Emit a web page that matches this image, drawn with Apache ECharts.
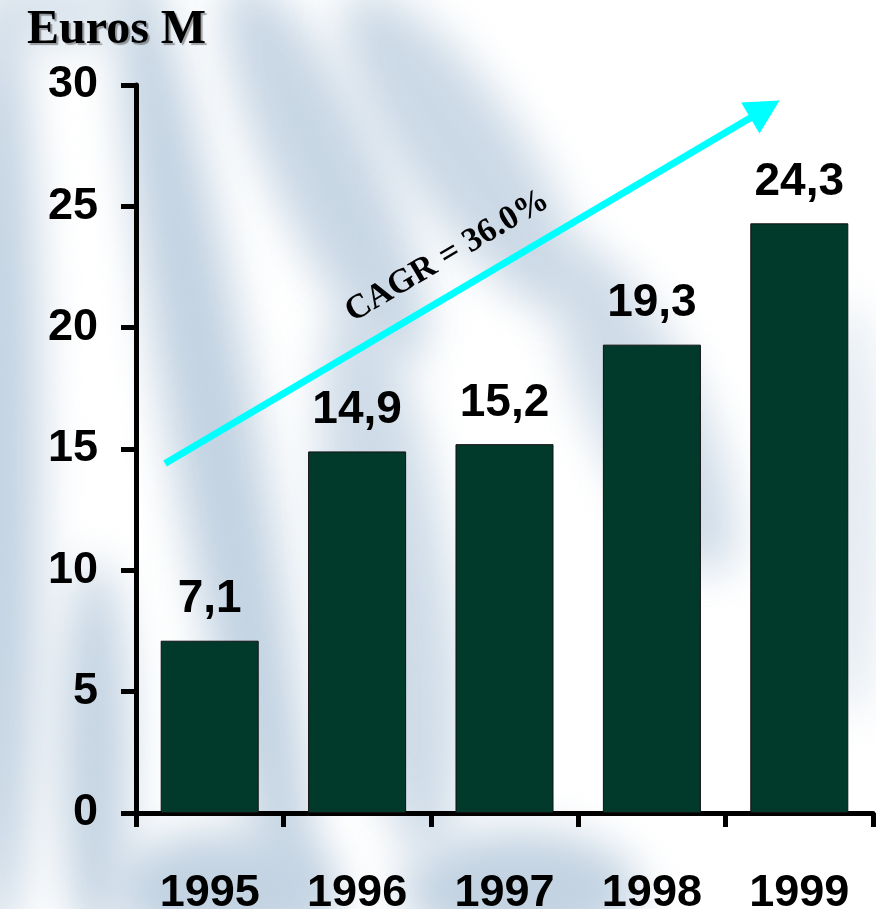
<!DOCTYPE html>
<html>
<head>
<meta charset="utf-8">
<script src="https://cdn.jsdelivr.net/npm/echarts@6/dist/echarts.min.js"></script>
<style>
html,body{margin:0;padding:0;background:#fff;overflow:hidden;}
#bg{position:absolute;left:0;top:0;width:876px;height:909px;overflow:hidden;}
#bg div{position:absolute;background:#c3d3e2;filter:blur(22px);border-radius:50%;}
#chart{position:absolute;left:0;top:0;width:876px;height:909px;}
</style>
</head>
<body>
<div id="bg">
  <div style="left:-40px;top:-20px;width:80px;height:960px;"></div>
  <div style="left:60px;top:560px;width:70px;height:380px;"></div>
  <div style="left:170px;top:-60px;width:90px;height:1000px;transform:rotate(-10deg);"></div>
  <div style="left:270px;top:-40px;width:110px;height:420px;transform:rotate(-25deg);opacity:0.9;"></div>
  <div style="left:400px;top:-40px;width:120px;height:380px;transform:rotate(-35deg);opacity:0.85;"></div>
  <div style="left:330px;top:300px;width:120px;height:560px;transform:rotate(-8deg);opacity:0.8;"></div>
  <div style="left:590px;top:230px;width:110px;height:360px;transform:rotate(-25deg);opacity:0.8;"></div>
  <div style="left:400px;top:830px;width:240px;height:120px;"></div>
  <div style="left:110px;top:830px;width:230px;height:120px;"></div>
  <div style="left:820px;top:300px;width:60px;height:420px;opacity:0.5;"></div>
  <div style="left:0px;top:-30px;width:120px;height:80px;opacity:0.6;"></div>
</div>
<div id="chart"></div>
<script>
const categories = ['1995', '1996', '1997', '1998', '1999'];
const revenue = [7.1, 14.9, 15.2, 19.3, 24.3];
const yTicks = [0, 5, 10, 15, 20, 25, 30];
const trendStart = [0.197, 14.4];
const trendEnd = [4.267, 29.0];
const trendLabel = 'CAGR = 36.0%';
const unitLabel = 'Euros M';

const chart = echarts.init(document.getElementById('chart'), null, {renderer: 'canvas'});
const sans = '"Liberation Sans", Arial, sans-serif';
const serif = '"Liberation Serif", "Times New Roman", serif';

chart.setOption({
  backgroundColor: 'transparent',
  animation: false,
  title: {
    text: unitLabel,
    left: 22,
    top: 2,
    textStyle: {
      fontFamily: serif,
      fontWeight: 'bold',
      fontSize: 48,
      color: '#000',
      textShadowColor: 'rgba(0,0,0,0.35)',
      textShadowOffsetX: 2,
      textShadowOffsetY: 2,
      textShadowBlur: 1
    }
  },
  grid: {left: 136, right: 3, top: 85, bottom: 96, containLabel: false, outerBoundsMode: 'none'},
  xAxis: [{
    type: 'category',
    data: categories,
    boundaryGap: true,
    axisLine: {lineStyle: {color: '#000', width: 5}},
    axisTick: {show: true, length: 14, lineStyle: {color: '#000', width: 5}},
    axisLabel: {fontFamily: sans, fontWeight: 'bold', fontSize: 45, color: '#000', margin: 58},
    splitLine: {show: false}
  }, {
    type: 'value',
    min: 0, max: 5,
    show: false
  }],
  yAxis: {
    type: 'value',
    min: yTicks[0],
    max: yTicks[yTicks.length - 1],
    interval: yTicks[1] - yTicks[0],
    axisLine: {show: true, lineStyle: {color: '#000', width: 5}},
    axisTick: {show: true, length: 15, lineStyle: {color: '#000', width: 5}},
    axisLabel: {fontFamily: sans, fontWeight: 'bold', fontSize: 45, color: '#000', margin: 38},
    splitLine: {show: false}
  },
  series: [{
    type: 'bar',
    data: revenue,
    barWidth: '66.5%',
    itemStyle: {color: '#013a2b', borderColor: '#111', borderWidth: 1},
    label: {
      show: true,
      position: 'top',
      distance: 18,
      fontFamily: sans,
      fontWeight: 'bold',
      fontSize: 46,
      color: '#000',
      formatter: p => String(p.value).replace('.', ',')
    }
  }, {
    type: 'line',
    xAxisIndex: 1,
    data: [],
    silent: true,
    markLine: {
      silent: true,
      symbol: ['none', 'triangle'],
      symbolSize: [36, 34],
      lineStyle: {color: '#00ffff', width: 7, type: 'solid'},
      label: {
        show: true,
        position: 'insideMiddleTop',
        distance: 18,
        formatter: trendLabel,
        fontFamily: serif,
        fontWeight: 'bold',
        fontSize: 34,
        color: '#000'
      },
      data: [[{coord: trendStart}, {coord: trendEnd}]]
    }
  }]
});
</script>
</body>
</html>
